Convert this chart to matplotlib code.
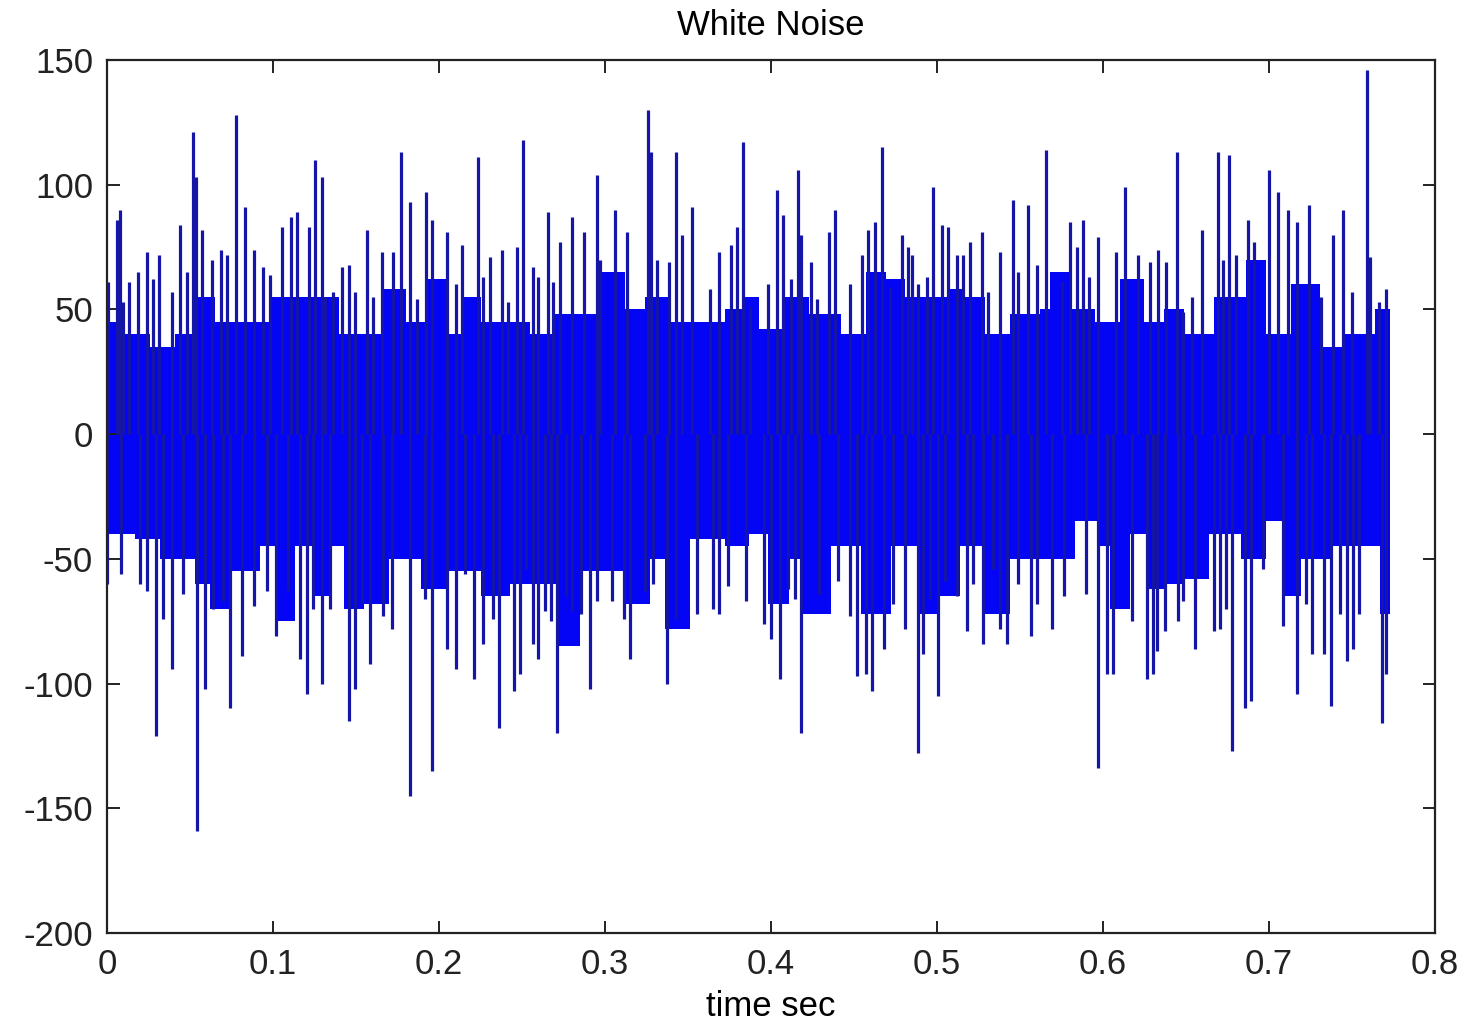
import numpy as np
import matplotlib.pyplot as plt

plt.rcParams['font.family'] = ['Liberation Sans', 'DejaVu Sans']
plt.rcParams['axes.unicode_minus'] = False

# dense core of the noise band: upper / lower edges (time s, amplitude)
core_up_t = [0.000, 0.011, 0.026, 0.041, 0.053, 0.065, 0.080, 0.098, 0.116, 0.128,
             0.140, 0.158, 0.167, 0.180, 0.192, 0.204, 0.213, 0.225, 0.243, 0.255,
             0.270, 0.285, 0.296, 0.312, 0.324, 0.339, 0.357, 0.372, 0.384, 0.393,
             0.408, 0.423, 0.442, 0.457, 0.469, 0.481, 0.496, 0.508, 0.517, 0.529,
             0.544, 0.562, 0.568, 0.580, 0.595, 0.610, 0.625, 0.637, 0.649, 0.667,
             0.686, 0.698, 0.713, 0.731, 0.745, 0.764, 0.773]
core_up_v = [45, 40, 35, 40, 55, 45, 45, 55, 55, 55,
             40, 40, 58, 45, 62, 40, 55, 45, 45, 40,
             48, 48, 65, 50, 55, 45, 45, 50, 55, 42,
             55, 48, 40, 65, 62, 55, 55, 58, 55, 40,
             48, 50, 65, 50, 45, 62, 45, 50, 40, 55,
             70, 40, 60, 35, 40, 50, 48]

core_lo_t = [0.000, 0.017, 0.032, 0.053, 0.062, 0.074, 0.092, 0.103, 0.113, 0.125,
             0.134, 0.143, 0.155, 0.170, 0.189, 0.204, 0.225, 0.243, 0.255, 0.271,
             0.285, 0.306, 0.312, 0.327, 0.336, 0.351, 0.372, 0.387, 0.398, 0.411,
             0.419, 0.436, 0.454, 0.472, 0.490, 0.502, 0.514, 0.528, 0.544, 0.568,
             0.583, 0.598, 0.604, 0.616, 0.628, 0.637, 0.649, 0.664, 0.683, 0.698,
             0.708, 0.719, 0.737, 0.755, 0.767, 0.773]
core_lo_v = [-40, -42, -50, -60, -70, -55, -45, -75, -45, -65,
             -45, -70, -68, -50, -62, -55, -65, -60, -60, -85,
             -55, -55, -68, -50, -78, -42, -45, -40, -68, -50,
             -72, -45, -72, -45, -72, -65, -45, -72, -50, -50,
             -35, -45, -70, -40, -62, -60, -58, -40, -50, -35,
             -65, -50, -45, -45, -72, -70]

# individual positive peaks
pk_up_t = [0.0006, 0.0060, 0.0078, 0.0096, 0.0133, 0.0187, 0.0241, 0.0277, 0.0313, 0.0392,
           0.0440, 0.0482, 0.0518, 0.0536, 0.0572, 0.0633, 0.0687, 0.0723, 0.0777, 0.0831,
           0.0886, 0.0940, 0.0982, 0.1054, 0.1108, 0.1145, 0.1217, 0.1253, 0.1295, 0.1313,
           0.1361, 0.1416, 0.1458, 0.1494, 0.1566, 0.1602, 0.1657, 0.1723, 0.1771, 0.1825,
           0.1867, 0.1922, 0.1958, 0.2048, 0.2102, 0.2139, 0.2235, 0.2265, 0.2307, 0.2380,
           0.2416, 0.2470, 0.2506, 0.2566, 0.2596, 0.2657, 0.2687, 0.2729, 0.2801, 0.2873,
           0.2952, 0.2970, 0.3060, 0.3133, 0.3259, 0.3277, 0.3313, 0.3386, 0.3428, 0.3464,
           0.3524, 0.3633, 0.3687, 0.3759, 0.3795, 0.3831, 0.3873, 0.3982, 0.4036, 0.4072,
           0.4120, 0.4163, 0.4181, 0.4241, 0.4277, 0.4349, 0.4386, 0.4476, 0.4548, 0.4584,
           0.4627, 0.4669, 0.4717, 0.4789, 0.4825, 0.4849, 0.4886, 0.4940, 0.4976, 0.5030,
           0.5066, 0.5120, 0.5157, 0.5199, 0.5271, 0.5307, 0.5380, 0.5458, 0.5488, 0.5548,
           0.5602, 0.5657, 0.5753, 0.5801, 0.5843, 0.5880, 0.5916, 0.5970, 0.6078, 0.6133,
           0.6211, 0.6283, 0.6331, 0.6380, 0.6446, 0.6482, 0.6536, 0.6596, 0.6693, 0.6723,
           0.6759, 0.6801, 0.6873, 0.6910, 0.7000, 0.7054, 0.7114, 0.7169, 0.7241, 0.7313,
           0.7386, 0.7446, 0.7500, 0.7590, 0.7608, 0.7663, 0.7705]
pk_up_v = [61, 86, 90, 53, 61, 65, 73, 62, 72, 57,
           84, 65, 121, 103, 82, 70, 74, 72, 128, 91,
           74, 67, 64, 83, 87, 89, 83, 110, 103, 55,
           57, 67, 68, 57, 82, 55, 73, 73, 113, 93,
           54, 97, 86, 81, 60, 76, 111, 63, 71, 74,
           53, 75, 118, 67, 63, 89, 61, 77, 87, 81,
           104, 70, 90, 81, 130, 113, 70, 69, 113, 80,
           91, 58, 73, 76, 83, 117, 51, 60, 98, 88,
           62, 106, 80, 69, 54, 81, 90, 60, 72, 82,
           85, 115, 59, 80, 75, 72, 60, 63, 99, 84,
           83, 72, 72, 77, 81, 57, 73, 94, 65, 92,
           68, 114, 61, 85, 75, 86, 63, 79, 73, 99,
           72, 69, 74, 69, 113, 49, 55, 82, 113, 70,
           112, 72, 86, 77, 106, 97, 90, 85, 92, 55,
           80, 90, 57, 146, 71, 53, 58]

# individual negative peaks
pk_lo_t = [0.0000, 0.0084, 0.0199, 0.0241, 0.0295, 0.0337, 0.0392, 0.0458, 0.0542, 0.0590,
           0.0639, 0.0699, 0.0741, 0.0813, 0.0886, 0.0964, 0.1018, 0.1090, 0.1163, 0.1205,
           0.1241, 0.1295, 0.1343, 0.1458, 0.1494, 0.1536, 0.1584, 0.1663, 0.1717, 0.1825,
           0.1916, 0.1958, 0.2048, 0.2102, 0.2157, 0.2211, 0.2265, 0.2325, 0.2361, 0.2452,
           0.2488, 0.2524, 0.2566, 0.2596, 0.2639, 0.2675, 0.2711, 0.2765, 0.2801, 0.2855,
           0.2910, 0.2952, 0.3042, 0.3114, 0.3151, 0.3241, 0.3289, 0.3373, 0.3428, 0.3554,
           0.3651, 0.3687, 0.3741, 0.3849, 0.3958, 0.4000, 0.4054, 0.4102, 0.4145, 0.4181,
           0.4289, 0.4404, 0.4476, 0.4518, 0.4572, 0.4608, 0.4681, 0.4735, 0.4807, 0.4886,
           0.4916, 0.4958, 0.5006, 0.5048, 0.5120, 0.5181, 0.5217, 0.5277, 0.5337, 0.5380,
           0.5422, 0.5488, 0.5566, 0.5602, 0.5693, 0.5765, 0.5898, 0.5970, 0.6024, 0.6060,
           0.6175, 0.6265, 0.6301, 0.6325, 0.6373, 0.6452, 0.6482, 0.6554, 0.6669, 0.6705,
           0.6741, 0.6777, 0.6855, 0.6892, 0.6964, 0.7084, 0.7169, 0.7223, 0.7259, 0.7331,
           0.7373, 0.7428, 0.7470, 0.7506, 0.7542, 0.7681, 0.7705]
pk_lo_v = [-60, -56, -60, -63, -121, -74, -94, -64, -159, -102,
           -70, -67, -110, -89, -69, -63, -81, -63, -90, -104,
           -70, -100, -70, -115, -102, -68, -92, -73, -78, -145,
           -66, -135, -86, -94, -56, -98, -84, -74, -118, -103,
           -96, -54, -84, -90, -71, -75, -120, -65, -71, -72,
           -102, -67, -67, -74, -90, -63, -60, -100, -74, -72,
           -70, -72, -61, -67, -76, -82, -98, -62, -66, -120,
           -64, -59, -73, -97, -96, -103, -86, -68, -78, -128,
           -88, -66, -105, -59, -65, -79, -60, -84, -54, -78,
           -84, -60, -81, -68, -78, -65, -64, -134, -96, -96,
           -75, -98, -96, -87, -79, -75, -67, -86, -79, -78,
           -70, -127, -110, -107, -54, -77, -104, -68, -88, -88,
           -109, -72, -91, -86, -72, -116, -96]

xticks = [0, 0.1, 0.2, 0.3, 0.4, 0.5, 0.6, 0.7, 0.8]
xticklabels = ['0', '0.1', '0.2', '0.3', '0.4', '0.5', '0.6', '0.7', '0.8']
yticks = [-200, -150, -100, -50, 0, 50, 100, 150]


def stairs(t, v):
    # hold each edge value up to the next sample, like a steps-post line
    t = np.asarray(t, float)
    v = np.asarray(v, float)
    ts = np.repeat(t, 2)[1:]
    vs = np.repeat(v, 2)[:-1]
    return ts, vs


fig = plt.figure(figsize=(14.68, 10.24), dpi=100)
ax = fig.add_axes([0.0729, 0.0889, 0.9046, 0.8525])

# solid band
ut, uv = stairs(core_up_t, core_up_v)
lt, lv = stairs(core_lo_t, core_lo_v)
ax.fill(np.r_[ut, lt[::-1]], np.r_[uv, lv[::-1]], color='#0505f5', lw=0)

# peaks sticking out of the band
ax.vlines(pk_up_t, 0, pk_up_v, colors='#1616a6', linewidth=2.3)
ax.vlines(pk_lo_t, 0, pk_lo_v, colors='#1616a6', linewidth=2.3)

ax.set_xlim(0, 0.8)
ax.set_ylim(-200, 150)
ax.set_xticks(xticks)
ax.set_xticklabels(xticklabels)
ax.set_yticks(yticks)
ax.tick_params(direction='in', length=9, width=1.4, top=True, right=True,
               labelsize=25, pad=10, colors='#222222')
ax.tick_params(axis='x', pad=11)
for s in ax.spines.values():
    s.set_linewidth(1.6)
    s.set_color('#222222')

ax.set_title('White Noise', fontsize=25, pad=18)
ax.set_xlabel('time sec', fontsize=25, labelpad=6)

fig.savefig('out.png', dpi=100, facecolor='white')
